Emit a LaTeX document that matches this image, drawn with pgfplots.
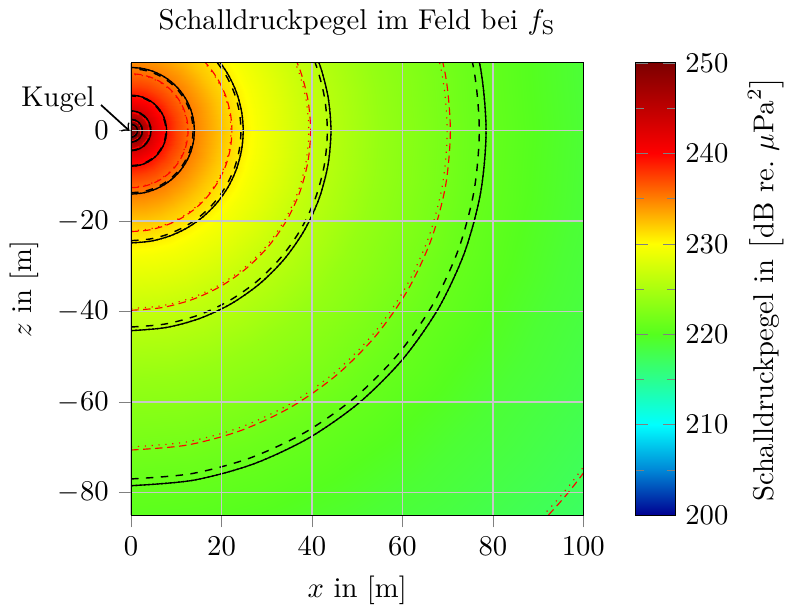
\documentclass[border=0pt]{standalone}
\usepackage{pgfplots}
\usepackage{pgfplotstable}
\pgfplotsset{compat=1.18}
\pgfplotsset{colormap={schall}{rgb255(0pt)=(0,0,145); rgb255(5pt)=(0,135,215); rgb255(10pt)=(0,255,255); rgb255(20pt)=(85,255,30); rgb255(30pt)=(255,255,0); rgb255(40pt)=(255,0,0); rgb255(50pt)=(125,0,0)}}

% contour radii (angle a in degrees, radius in m)
% s = black solid, d = black dashed, r = red dashed, p = red dotted
\pgfplotstableread{
a s0 s1 s2 s3 s4 s5 s6 s7 d0 d1 d2 d3 d4 d5 d6 d7 r0 r1 r2 r3 r4 r5 r6 r7 r8 p0 p1 p2 p3 p4 p5 p6 p7 p8
-90 78.5 44.2 24.8 14 7.85 4.4 2.5 1.4 77 43.4 24.3 13.7 7.7 4.3 2.45 1.37 125.5 70.6 39.7 22.3 12.6 7.05 3.97 2.23 1.25 124.7 69.9 39.3 22.1 12.45 6.95 3.92 2.2 1.23
-80 78.5 44.2 24.8 14 7.85 4.4 2.5 1.4 77 43.4 24.3 13.7 7.7 4.3 2.45 1.37 125.5 70.6 39.7 22.3 12.6 7.05 3.97 2.23 1.25 124.7 69.9 39.3 22.1 12.45 6.95 3.92 2.2 1.23
-70 78.5 44.2 24.8 14 7.85 4.4 2.5 1.4 77 43.4 24.3 13.7 7.7 4.3 2.45 1.37 125.5 70.6 39.7 22.3 12.6 7.05 3.97 2.23 1.25 124.7 69.9 39.3 22.1 12.45 6.95 3.92 2.2 1.23
-60 78.5 44.2 24.8 14 7.85 4.4 2.5 1.4 77 43.4 24.3 13.7 7.7 4.3 2.45 1.37 125.5 70.6 39.7 22.3 12.6 7.05 3.97 2.23 1.25 124.7 69.9 39.3 22.1 12.45 6.95 3.92 2.2 1.23
-50 78.5 44.2 24.8 14 7.85 4.4 2.5 1.4 77 43.4 24.3 13.7 7.7 4.3 2.45 1.37 125.5 70.6 39.7 22.3 12.6 7.05 3.97 2.23 1.25 124.7 69.9 39.3 22.1 12.45 6.95 3.92 2.2 1.23
-40 78.5 44.2 24.8 14 7.85 4.4 2.5 1.4 77 43.4 24.3 13.7 7.7 4.3 2.45 1.37 125.5 70.6 39.7 22.3 12.6 7.05 3.97 2.23 1.25 124.7 69.9 39.3 22.1 12.45 6.95 3.92 2.2 1.23
-30 78.5 44.2 24.8 14 7.85 4.4 2.5 1.4 77 43.4 24.3 13.7 7.7 4.3 2.45 1.37 125.5 70.6 39.7 22.3 12.6 7.05 3.97 2.23 1.25 124.7 69.9 39.3 22.1 12.45 6.95 3.92 2.2 1.23
-20 78.5 44.2 24.8 14 7.85 4.4 2.5 1.4 77 43.4 24.3 13.7 7.7 4.3 2.45 1.37 125.5 70.6 39.7 22.3 12.6 7.05 3.97 2.23 1.25 124.7 69.9 39.3 22.1 12.45 6.95 3.92 2.2 1.23
-10 78.5 44.2 24.8 14 7.85 4.4 2.5 1.4 77 43.4 24.3 13.7 7.7 4.3 2.45 1.37 125.5 70.6 39.7 22.3 12.6 7.05 3.97 2.23 1.25 124.7 69.9 39.3 22.1 12.45 6.95 3.92 2.2 1.23
0 78.5 44.2 24.8 14 7.85 4.4 2.5 1.4 77 43.4 24.3 13.7 7.7 4.3 2.45 1.37 125.5 70.6 39.7 22.3 12.6 7.05 3.97 2.23 1.25 124.7 69.9 39.3 22.1 12.45 6.95 3.92 2.2 1.23
10 78.5 44.2 24.8 14 7.85 4.4 2.5 1.4 77 43.4 24.3 13.7 7.7 4.3 2.45 1.37 125.5 70.6 39.7 22.3 12.6 7.05 3.97 2.23 1.25 124.7 69.9 39.3 22.1 12.45 6.95 3.92 2.2 1.23
20 78.5 44.2 24.8 14 7.85 4.4 2.5 1.4 77 43.4 24.3 13.7 7.7 4.3 2.45 1.37 125.5 70.6 39.7 22.3 12.6 7.05 3.97 2.23 1.25 124.7 69.9 39.3 22.1 12.45 6.95 3.92 2.2 1.23
30 78.5 44.2 24.8 14 7.85 4.4 2.5 1.4 77 43.4 24.3 13.7 7.7 4.3 2.45 1.37 125.5 70.6 39.7 22.3 12.6 7.05 3.97 2.23 1.25 124.7 69.9 39.3 22.1 12.45 6.95 3.92 2.2 1.23
40 78.5 44.2 24.8 14 7.85 4.4 2.5 1.4 77 43.4 24.3 13.7 7.7 4.3 2.45 1.37 125.5 70.6 39.7 22.3 12.6 7.05 3.97 2.23 1.25 124.7 69.9 39.3 22.1 12.45 6.95 3.92 2.2 1.23
50 78.5 44.2 24.8 14 7.85 4.4 2.5 1.4 77 43.4 24.3 13.7 7.7 4.3 2.45 1.37 125.5 70.6 39.7 22.3 12.6 7.05 3.97 2.23 1.25 124.7 69.9 39.3 22.1 12.45 6.95 3.92 2.2 1.23
60 78.5 44.2 24.8 14 7.85 4.4 2.5 1.4 77 43.4 24.3 13.7 7.7 4.3 2.45 1.37 125.5 70.6 39.7 22.3 12.6 7.05 3.97 2.23 1.25 124.7 69.9 39.3 22.1 12.45 6.95 3.92 2.2 1.23
70 78.5 44.2 24.8 14 7.85 4.4 2.5 1.4 77 43.4 24.3 13.7 7.7 4.3 2.45 1.37 125.5 70.6 39.7 22.3 12.6 7.05 3.97 2.23 1.25 124.7 69.9 39.3 22.1 12.45 6.95 3.92 2.2 1.23
80 78.5 44.2 24.8 14 7.85 4.4 2.5 1.4 77 43.4 24.3 13.7 7.7 4.3 2.45 1.37 125.5 70.6 39.7 22.3 12.6 7.05 3.97 2.23 1.25 124.7 69.9 39.3 22.1 12.45 6.95 3.92 2.2 1.23
90 78.5 44.2 24.8 14 7.85 4.4 2.5 1.4 77 43.4 24.3 13.7 7.7 4.3 2.45 1.37 125.5 70.6 39.7 22.3 12.6 7.05 3.97 2.23 1.25 124.7 69.9 39.3 22.1 12.45 6.95 3.92 2.2 1.23
}\circles

\begin{document}
\begin{tikzpicture}
\begin{axis}[
  scale only axis, width=5.55cm, height=5.55cm,
  xmin=0, xmax=100, ymin=-85, ymax=15,
  xtick={0,20,...,100}, ytick={-80,-60,...,0},
  tick pos=left, tick align=outside,
  tick style={black!50},
  grid=major, grid style={black!22, line width=0.5pt},
  axis on top,
  title={Schalldruckpegel im Feld bei $f_\mathrm{S}$},
  xlabel={$x$ in [m]}, ylabel={$z$ in [m]},
  colormap name=schall,
  point meta min=200, point meta max=250,
  colorbar,
  colorbar style={
    at={(parent axis.north east)}, anchor=north west, xshift=9.8pt,
    width=13.8pt,
    ytick={200,210,...,250},
    minor ytick={205,215,...,245},
    tick style={black!50},
    tick align=inside,
    ylabel={Schalldruckpegel in $\left[\mathrm{dB\ re.}\ \mu\mathrm{Pa}^2\right]$},
  },
]
\addplot[surf, shader=interp, point meta=explicit, mesh/cols=19, data cs=polar] coordinates {
(-90,0)[250] (-80,0)[250] (-70,0)[250] (-60,0)[250] (-50,0)[250] (-40,0)[250] (-30,0)[250] (-20,0)[250] (-10,0)[250] (0,0)[250] (10,0)[250] (20,0)[250] (30,0)[250] (40,0)[250] (50,0)[250] (60,0)[250] (70,0)[250] (80,0)[250] (90,0)[250]
(-90,1)[250] (-80,1)[250] (-70,1)[250] (-60,1)[250] (-50,1)[250] (-40,1)[250] (-30,1)[250] (-20,1)[250] (-10,1)[250] (0,1)[250] (10,1)[250] (20,1)[250] (30,1)[250] (40,1)[250] (50,1)[250] (60,1)[250] (70,1)[250] (80,1)[250] (90,1)[250]
(-90,1.5)[250] (-80,1.5)[250] (-70,1.5)[250] (-60,1.5)[250] (-50,1.5)[250] (-40,1.5)[250] (-30,1.5)[250] (-20,1.5)[250] (-10,1.5)[250] (0,1.5)[250] (10,1.5)[250] (20,1.5)[250] (30,1.5)[250] (40,1.5)[250] (50,1.5)[250] (60,1.5)[250] (70,1.5)[250] (80,1.5)[250] (90,1.5)[250]
(-90,2)[248.5] (-80,2)[248.5] (-70,2)[248.5] (-60,2)[248.5] (-50,2)[248.5] (-40,2)[248.5] (-30,2)[248.5] (-20,2)[248.5] (-10,2)[248.5] (0,2)[248.5] (10,2)[248.5] (20,2)[248.5] (30,2)[248.5] (40,2)[248.5] (50,2)[248.5] (60,2)[248.5] (70,2)[248.5] (80,2)[248.5] (90,2)[248.5]
(-90,3)[246] (-80,3)[246] (-70,3)[246] (-60,3)[246] (-50,3)[246] (-40,3)[246] (-30,3)[246] (-20,3)[246] (-10,3)[246] (0,3)[246] (10,3)[246] (20,3)[246] (30,3)[246] (40,3)[246] (50,3)[246] (60,3)[246] (70,3)[246] (80,3)[246] (90,3)[246]
(-90,4)[244] (-80,4)[244] (-70,4)[244] (-60,4)[244] (-50,4)[244] (-40,4)[244] (-30,4)[244] (-20,4)[244] (-10,4)[244] (0,4)[244] (10,4)[244] (20,4)[244] (30,4)[244] (40,4)[244] (50,4)[244] (60,4)[244] (70,4)[244] (80,4)[244] (90,4)[244]
(-90,5)[242.5] (-80,5)[242.5] (-70,5)[242.5] (-60,5)[242.5] (-50,5)[242.5] (-40,5)[242.5] (-30,5)[242.5] (-20,5)[242.5] (-10,5)[242.5] (0,5)[242.5] (10,5)[242.5] (20,5)[242.5] (30,5)[242.5] (40,5)[242.5] (50,5)[242.5] (60,5)[242.5] (70,5)[242.5] (80,5)[242.5] (90,5)[242.5]
(-90,7)[240] (-80,7)[240] (-70,7)[240] (-60,7)[240] (-50,7)[240] (-40,7)[240] (-30,7)[240] (-20,7)[240] (-10,7)[240] (0,7)[240] (10,7)[240] (20,7)[240] (30,7)[240] (40,7)[240] (50,7)[240] (60,7)[240] (70,7)[240] (80,7)[240] (90,7)[240]
(-90,10)[237.5] (-80,10)[237.5] (-70,10)[237.5] (-60,10)[237.5] (-50,10)[237.5] (-40,10)[237.5] (-30,10)[237.5] (-20,10)[237.5] (-10,10)[237.5] (0,10)[237.5] (10,10)[237.5] (20,10)[237.5] (30,10)[237.5] (40,10)[237.5] (50,10)[237.5] (60,10)[237.5] (70,10)[237.5] (80,10)[237.5] (90,10)[237.5]
(-90,14)[235] (-80,14)[235] (-70,14)[235] (-60,14)[235] (-50,14)[235] (-40,14)[235] (-30,14)[235] (-20,14)[235] (-10,14)[235] (0,14)[235] (10,14)[235] (20,14)[235] (30,14)[235] (40,14)[235] (50,14)[235] (60,14)[235] (70,14)[235] (80,14)[235] (90,14)[235]
(-90,20)[232.3] (-80,20)[232.3] (-70,20)[232.3] (-60,20)[232.3] (-50,20)[232.3] (-40,20)[232.3] (-30,20)[232.3] (-20,20)[232.3] (-10,20)[232.3] (0,20)[232.3] (10,20)[232.3] (20,20)[232.3] (30,20)[232.3] (40,20)[232.3] (50,20)[232.3] (60,20)[232.3] (70,20)[232.3] (80,20)[232.3] (90,20)[232.3]
(-90,28)[229.5] (-80,28)[229.5] (-70,28)[229.5] (-60,28)[229.5] (-50,28)[229.5] (-40,28)[229.5] (-30,28)[229.5] (-20,28)[229.5] (-10,28)[229.5] (0,28)[229.5] (10,28)[229.5] (20,28)[229.5] (30,28)[229.5] (40,28)[229.5] (50,28)[229.5] (60,28)[229.5] (70,28)[229.5] (80,28)[229.5] (90,28)[229.5]
(-90,40)[226.5] (-80,40)[226.5] (-70,40)[226.5] (-60,40)[226.5] (-50,40)[226.5] (-40,40)[226.5] (-30,40)[226.5] (-20,40)[226.5] (-10,40)[226.5] (0,40)[226.5] (10,40)[226.5] (20,40)[226.5] (30,40)[226.5] (40,40)[226.5] (50,40)[226.5] (60,40)[226.5] (70,40)[226.5] (80,40)[226.5] (90,40)[226.5]
(-90,55)[223.8] (-80,55)[223.8] (-70,55)[223.8] (-60,55)[223.8] (-50,55)[223.8] (-40,55)[223.8] (-30,55)[223.8] (-20,55)[223.8] (-10,55)[223.8] (0,55)[223.8] (10,55)[223.8] (20,55)[223.8] (30,55)[223.8] (40,55)[223.8] (50,55)[223.8] (60,55)[223.8] (70,55)[223.8] (80,55)[223.8] (90,55)[223.8]
(-90,75)[221.3] (-80,75)[221.3] (-70,75)[221.3] (-60,75)[221.3] (-50,75)[221.3] (-40,75)[221.3] (-30,75)[221.3] (-20,75)[221.3] (-10,75)[221.3] (0,75)[221.3] (10,75)[221.3] (20,75)[221.3] (30,75)[221.3] (40,75)[221.3] (50,75)[221.3] (60,75)[221.3] (70,75)[221.3] (80,75)[221.3] (90,75)[221.3]
(-90,100)[219] (-80,100)[219] (-70,100)[219] (-60,100)[219] (-50,100)[219] (-40,100)[219] (-30,100)[219] (-20,100)[219] (-10,100)[219] (0,100)[219] (10,100)[219] (20,100)[219] (30,100)[219] (40,100)[219] (50,100)[219] (60,100)[219] (70,100)[219] (80,100)[219] (90,100)[219]
(-90,135)[216.8] (-80,135)[216.8] (-70,135)[216.8] (-60,135)[216.8] (-50,135)[216.8] (-40,135)[216.8] (-30,135)[216.8] (-20,135)[216.8] (-10,135)[216.8] (0,135)[216.8] (10,135)[216.8] (20,135)[216.8] (30,135)[216.8] (40,135)[216.8] (50,135)[216.8] (60,135)[216.8] (70,135)[216.8] (80,135)[216.8] (90,135)[216.8]
};
\pgfplotsinvokeforeach{0,...,8}{
  \addplot[red, line width=0.4pt, dash pattern=on 2.6pt off 1.6pt, smooth, data cs=polar] table[x=a, y=r#1] {\circles};
  \addplot[red, line width=0.4pt, dotted, smooth, data cs=polar] table[x=a, y=p#1] {\circles};
}
\pgfplotsinvokeforeach{0,...,7}{
  \addplot[black, line width=0.5pt, dash pattern=on 2.6pt off 2.6pt, smooth, data cs=polar] table[x=a, y=d#1] {\circles};
  \addplot[black, line width=0.45pt, smooth, data cs=polar] table[x=a, y=s#1] {\circles};
  \addplot[black, line width=0.5pt, densely dotted, smooth, data cs=polar] table[x=a, y=s#1] {\circles};
}
\coordinate (O) at (axis cs:0,0);
\end{axis}
\draw[->, semithick] ([xshift=-10.5pt, yshift=9pt]O) -- ([xshift=-0.6pt]O);
\node at ([xshift=-25.5pt, yshift=10.8pt]O) {Kugel};
\end{tikzpicture}
\end{document}
